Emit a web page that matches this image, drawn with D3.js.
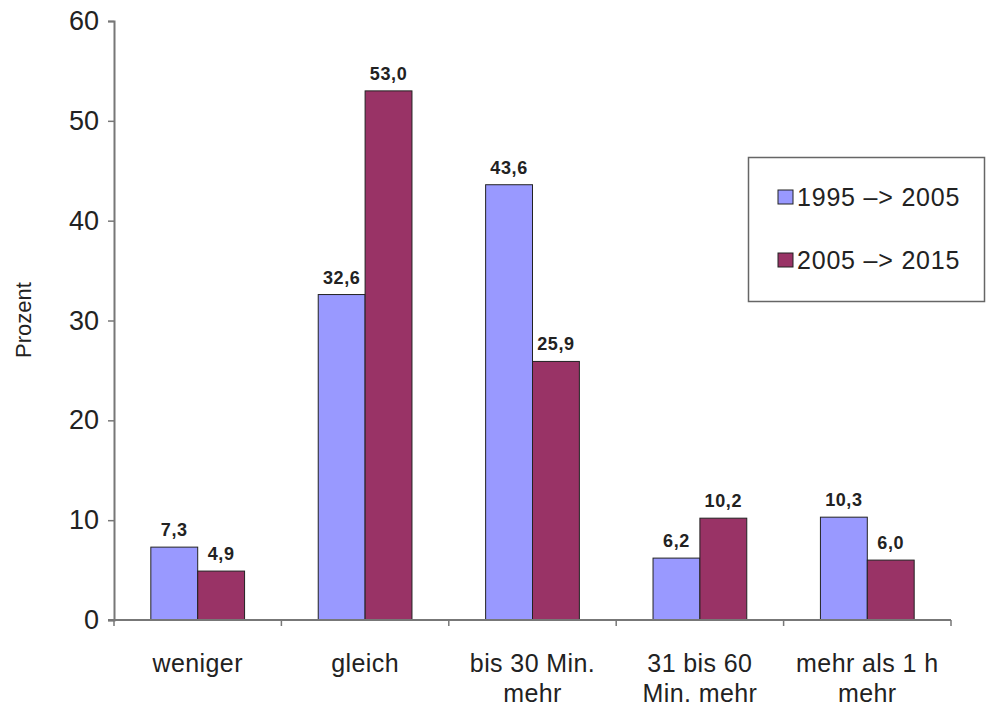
<!DOCTYPE html>
<html><head><meta charset="utf-8">
<script src="https://cdn.jsdelivr.net/npm/d3@7"></script>
<style>body{margin:0;background:#fff}svg{display:block}text{font-family:"Liberation Sans",Arial,sans-serif}</style>
</head><body>
<svg id="c" width="987" height="709"></svg>
<script>
const categories = [["weniger"],["gleich"],["bis 30 Min.","mehr"],["31 bis 60","Min. mehr"],["mehr als 1 h","mehr"]];
const seriesNames = ["1995 –> 2005","2005 –> 2015"];
const series1 = [7.3, 32.6, 43.6, 6.2, 10.3];
const series2 = [4.9, 53.0, 25.9, 10.2, 6.0];
const yTicks = [0,10,20,30,40,50,60];
const colors = ["#9999FF","#993366"];

const svg = d3.select("#c");
const mLeft = 114, mRight = 951, mTop = 21, mBottom = 620;
const y = d3.scaleLinear().domain([0,60]).range([mBottom, mTop]);
const x0 = d3.scaleBand().domain(d3.range(categories.length)).range([mLeft, mRight]).paddingInner(0.44).paddingOuter(0.22);
const x1 = d3.scaleBand().domain([0,1]).range([0, x0.bandwidth()]);
const step = x0.step();

// bars
const data = [series1, series2];
categories.forEach((c, i) => {
  data.forEach((s, j) => {
    const bx = x0(i) + x1(j);
    svg.append("rect").attr("x", bx).attr("y", y(s[i])).attr("width", x1.bandwidth()).attr("height", y(0) - y(s[i]))
      .attr("fill", colors[j]).attr("stroke", "#222").attr("stroke-width", 1);
    svg.append("text").attr("x", bx + x1.bandwidth()/2).attr("y", y(s[i]) - 11).attr("text-anchor", "middle")
      .attr("font-size", 18).attr("font-weight", "bold").attr("letter-spacing", 0.6).attr("fill", "#222")
      .text(d3.format(".1f")(s[i]).replace(".", ","));
  });
});

// y axis
const yAxis = d3.axisLeft(y).tickValues(yTicks).tickSize(6).tickPadding(9);
const gy = svg.append("g").attr("transform", `translate(${mLeft},0)`).call(yAxis);
gy.select(".domain").attr("stroke", "#777").attr("stroke-width", 2);
gy.selectAll(".tick line").attr("stroke", "#777").attr("stroke-width", 1.5);
gy.selectAll(".tick text").attr("font-size", 27).attr("fill", "#222").attr("font-family", "Liberation Sans, Arial, sans-serif");

// x axis line and ticks at band boundaries
svg.append("line").attr("x1", mLeft - 6).attr("x2", mRight).attr("y1", y(0)).attr("y2", y(0)).attr("stroke", "#777").attr("stroke-width", 2);
d3.range(categories.length + 1).forEach(i => {
  const tx = mLeft + i * step;
  svg.append("line").attr("x1", tx).attr("x2", tx).attr("y1", y(0)).attr("y2", y(0) + 6).attr("stroke", "#777").attr("stroke-width", 1.5);
});

// category labels
categories.forEach((c, i) => {
  const cx = x0(i) + x0.bandwidth()/2;
  const t = svg.append("text").attr("text-anchor", "middle").attr("font-size", 25).attr("letter-spacing", 0.4).attr("fill", "#222");
  c.forEach((line, k) => {
    t.append("tspan").attr("x", cx).attr("y", 672 + k*30).text(line);
  });
});

// y title
svg.append("text").attr("transform", "translate(31,320) rotate(-90)").attr("text-anchor", "middle")
  .attr("font-size", 22).attr("fill", "#222").text("Prozent");

// legend
svg.append("rect").attr("x", 748.5).attr("y", 157.5).attr("width", 236).attr("height", 144).attr("fill", "#fff").attr("stroke", "#666").attr("stroke-width", 1.5);
seriesNames.forEach((n, j) => {
  const ly = 197 + j * 63;
  svg.append("rect").attr("x", 778).attr("y", ly - 7).attr("width", 15).attr("height", 14).attr("fill", colors[j]).attr("stroke", "#222").attr("stroke-width", 1);
  svg.append("text").attr("x", 797).attr("y", ly + 9).attr("font-size", 25).attr("letter-spacing", 0.8).attr("fill", "#222").text(n);
});
</script>
</body></html>
